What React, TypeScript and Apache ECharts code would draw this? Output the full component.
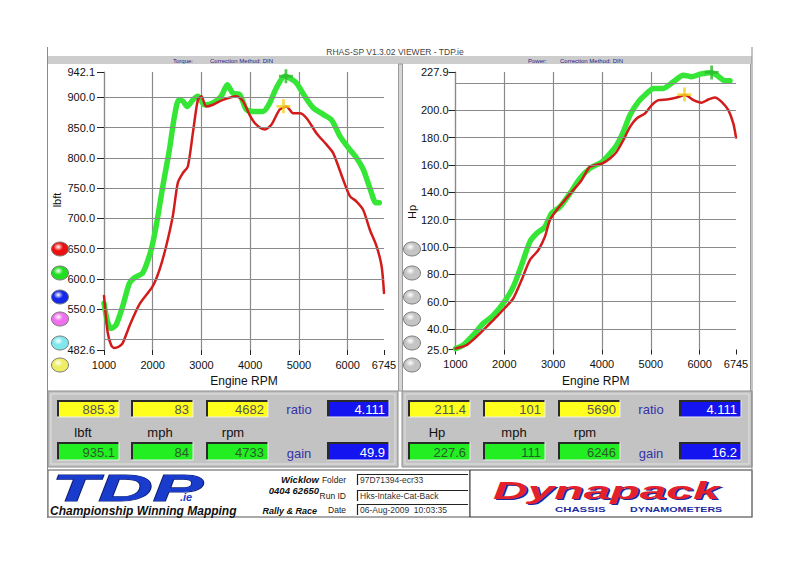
import React, { useEffect, useRef } from "react";
import * as echarts from "echarts";

// ---------- data ----------
const rpmMin = 1000;
const rpmMax = 6745;

const torqueLabelTicks = [482.6, 550, 600, 650, 700, 750, 800, 850, 900, 942.1];
const torqueGridLines = [500, 550, 600, 650, 700, 750, 800, 850, 900];
const powerLabelTicks = [25, 40, 60, 80, 100, 120, 140, 160, 180, 200, 227.9];
const powerGridLines = [40, 60, 80, 100, 120, 140, 160, 180, 200, 220];

// Torque, run 1 (red)
const torqueRpmA = [1000, 1075, 1150, 1212, 1300, 1384, 1521, 1727, 2000, 2138, 2275, 2412, 2515, 2618, 2720, 2823, 2926, 3000, 3096, 3234, 3440, 3714, 3851, 4000, 4125, 4297, 4434, 4605, 4742, 4880, 5017, 5154, 5360, 5566, 5703, 5908, 6045, 6182, 6319, 6456, 6593, 6696, 6745];
const torqueA = [572, 512, 490, 486, 488, 494, 522, 558, 588, 615, 654, 704, 759, 775, 786, 841, 896, 902, 885, 888, 896, 902, 894, 869, 855, 847, 855, 880, 885, 874, 874, 866, 841, 822, 808, 764, 737, 728, 714, 681, 654, 621, 577];

// Torque, run 2 (green)
const torqueRpmB = [1000, 1070, 1144, 1247, 1384, 1521, 1624, 1795, 1966, 2069, 2206, 2343, 2446, 2535, 2618, 2707, 2823, 2926, 3062, 3234, 3405, 3529, 3646, 3783, 3920, 4057, 4262, 4400, 4537, 4708, 4811, 4948, 5120, 5291, 5497, 5668, 5840, 6011, 6182, 6319, 6456, 6579, 6648];
const torqueB = [560, 530, 518, 524, 555, 593, 602, 610, 648, 687, 753, 814, 869, 896, 894, 885, 896, 902, 888, 891, 902, 921, 907, 905, 880, 877, 877, 891, 916, 935, 932, 924, 902, 883, 872, 863, 836, 817, 800, 781, 750, 726, 726];

// Power, run 1 (red)
const powerRpmA = [1000, 1225, 1430, 1635, 1840, 2000, 2182, 2352, 2523, 2694, 2831, 2933, 3070, 3240, 3411, 3582, 3753, 4000, 4164, 4300, 4437, 4574, 4710, 4880, 5020, 5157, 5328, 5533, 5704, 5874, 6041, 6178, 6314, 6451, 6588, 6690, 6745];
const powerA = [25.7, 28.2, 34.3, 41.6, 48.9, 55, 62.3, 75.7, 90.3, 97.6, 107.4, 119.6, 126.9, 134.2, 141.5, 148.8, 158.6, 161, 164.7, 169.5, 178, 187.8, 193.9, 197.6, 203.7, 207.3, 207.8, 209.3, 211, 207.3, 205.4, 207.8, 209.3, 206.1, 200, 190.3, 180];

// Power, run 2 (green)
const powerRpmB = [1000, 1157, 1362, 1567, 1772, 2000, 2182, 2352, 2523, 2660, 2831, 2967, 3138, 3343, 3548, 3753, 4000, 4164, 4300, 4437, 4574, 4744, 4915, 5051, 5256, 5461, 5666, 5837, 6007, 6246, 6349, 6520, 6622];
const powerB = [25.7, 28.2, 35.5, 44, 50, 59.9, 70.8, 86.7, 103.7, 109.8, 114.7, 124.5, 129.3, 139.1, 150, 157.4, 162.2, 168.3, 174.4, 184.2, 196.4, 206.1, 212.2, 215.9, 215.9, 220.7, 225.6, 224.4, 226.3, 227.6, 225.6, 221.5, 221.5];

// Peak markers [rpm, value]
const torquePeakA = [4682, 885.3];
const torquePeakB = [4733, 935.1];
const powerPeakA = [5690, 211.4];
const powerPeakB = [6246, 227.6];

// Readouts
const torqueRowA = ["885.3", "83", "4682"];
const torqueRowB = ["935.1", "84", "4733"];
const torqueRatio = "4.111";
const torqueGain = "49.9";
const powerRowA = ["211.4", "101", "5690"];
const powerRowB = ["227.6", "111", "6246"];
const powerRatio = "4.111";
const powerGain = "16.2";
const torqueUnits = ["lbft", "mph", "rpm"];
const powerUnits = ["Hp", "mph", "rpm"];

const FONT = "Liberation Sans";
const RED = "#d21c1c";
const GREEN = "#36e636";
const GRIDC = "#8a8a8a";
const CROSS = "path://M4,0L6,0L6,4L10,4L10,6L6,6L6,10L4,10L4,6L0,6L0,4L4,4Z";

const zip = (xs: number[], ys: number[]) => xs.map((x, i) => [x, ys[i]]);

function txt(text: string, x: number, y: number, o: any = {}) {
  return {
    type: "text",
    x,
    y,
    z: o.z ?? 10,
    rotation: o.rotation ?? 0,
    scaleX: o.scaleX ?? 1,
    style: {
      text,
      fill: o.color ?? "#111",
      fontSize: o.size ?? 11,
      fontFamily: o.family ?? FONT,
      fontWeight: o.weight ?? "normal",
      fontStyle: o.style ?? "normal",
      align: o.align ?? "left",
      textAlign: o.align ?? "left",
      verticalAlign: o.va ?? "middle",
      textVerticalAlign: o.va ?? "middle",
      stroke: o.stroke,
      lineWidth: o.lineWidth ?? 0,
    },
  };
}

function rect(x: number, y: number, w: number, h: number, fill: string, stroke?: string, z = -5, lw = 1) {
  return { type: "rect", z, shape: { x, y, width: w, height: h }, style: { fill, stroke: stroke ?? "none", lineWidth: lw } };
}

function line(x1: number, y1: number, x2: number, y2: number, stroke: string, lw = 1, z = 5) {
  return { type: "line", z, shape: { x1, y1, x2, y2 }, style: { stroke, lineWidth: lw } };
}

function valueBox(x: number, y: number, w: number, h: number, fill: string, text: string, color: string) {
  return [
    rect(x, y, w, h, fill, "none", 5),
    { type: "polyline", z: 6, shape: { points: [[x + 1, y + h], [x + 1, y + 1], [x + w, y + 1]] }, style: { stroke: "#2a2a2a", lineWidth: 2, fill: "none" } },
    line(x, y + h, x + w, y + h, "#eeeeee", 1, 6),
    line(x + w, y, x + w, y + h, "#eeeeee", 1, 6),
    txt(text, x + w - 4, y + h / 2 + 1, { size: 13, color, align: "right" }),
  ];
}

function readoutPanel(x0: number, rowA: string[], rowB: string[], units: string[], ratio: string, gain: string, boxXs: number[], labelX: number, blueX: number, unitXs: number[]) {
  const els: any[] = [];
  els.push(rect(x0, 391, 350, 76, "#c3c3c3", "#8c8c8c", -5));
  els.push(rect(x0 + 3, 394, 344, 70, "none", "#e2e2e2", -4));
  rowA.forEach((t, i) => els.push(...valueBox(boxXs[i], 400, 62, 17, "#ffff1e", t, "#555555")));
  rowB.forEach((t, i) => els.push(...valueBox(boxXs[i], 442, 62, 18, "#22ee22", t, "#2c5a2c")));
  els.push(...valueBox(blueX, 400, 62, 17, "#1414f0", ratio, "#ffffff"));
  els.push(...valueBox(blueX, 442, 62, 18, "#1414f0", gain, "#ffffff"));
  els.push(txt("ratio", labelX, 409, { size: 13, color: "#3434a8", align: "center" }));
  els.push(txt("gain", labelX, 453, { size: 13, color: "#3434a8", align: "center" }));
  units.forEach((u, i) => els.push(txt(u, unitXs[i], 432, { size: 13, color: "#111", align: "center" })));
  return els;
}

function legendDots(cx: number, colors: string[]) {
  const ys = [249, 273, 297, 319, 343, 365];
  return colors.map((c, i) => ({
    type: "ellipse",
    z: 5,
    shape: { cx, cy: ys[i], rx: 8.5, ry: 7 },
    style: {
      fill: {
        type: "radial", x: 0.4, y: 0.35, r: 0.8,
        colorStops: [{ offset: 0, color: "#ffffff" }, { offset: 0.35, color: c }, { offset: 1, color: c }],
      },
      stroke: "#7a7a7a",
      lineWidth: 1,
    },
  }));
}

function xAxisCfg(gridIndex: number) {
  return {
    type: "value",
    gridIndex,
    min: rpmMin,
    max: rpmMax,
    interval: 1000,
    axisLine: { show: false },
    axisTick: { show: true, length: 5, lineStyle: { color: "#222" } },
    axisLabel: { fontSize: 11, color: "#111", margin: 9, fontFamily: FONT, formatter: (v: number) => String(Math.round(v)) },
    splitLine: { show: true, showMinLine: true, showMaxLine: false, lineStyle: { color: GRIDC, width: 1.2 } },
    name: "Engine RPM",
    nameLocation: "middle",
    nameGap: 25,
    nameTextStyle: { fontSize: 12, color: "#111", fontFamily: FONT },
  };
}

function yAxisCfg(gridIndex: number, min: number, max: number, ticks: number[], margin: number) {
  return {
    type: "value",
    gridIndex,
    min,
    max,
    axisLine: { show: true, onZero: false, lineStyle: { color: GRIDC, width: 1.2 } },
    axisTick: { show: true, length: 7, customValues: ticks, lineStyle: { color: "#222" } },
    axisLabel: { customValues: ticks, fontSize: 11, color: "#111", margin, fontFamily: FONT, formatter: (v: number) => v.toFixed(1) },
    splitLine: { show: false },
  };
}

function gridSeries(idx: number, values: number[], x0: number, y0: number) {
  return {
    type: "line",
    xAxisIndex: idx,
    yAxisIndex: idx,
    z: 1,
    silent: true,
    showSymbol: false,
    data: [[x0, y0]],
    lineStyle: { opacity: 0 },
    markLine: {
      silent: true,
      symbol: "none",
      animation: false,
      label: { show: false },
      lineStyle: { color: GRIDC, width: 1.2, type: "solid" },
      data: values.map((v) => ({ yAxis: v })),
    },
  };
}

function curve(idx: number, data: number[][], color: string, width: number, z: number) {
  return {
    type: "line",
    xAxisIndex: idx,
    yAxisIndex: idx,
    z,
    data,
    showSymbol: false,
    smooth: 0.25,
    lineStyle: { color, width, cap: "round", join: "round" },
  };
}

function marker(idx: number, pt: number[], color: string) {
  return {
    type: "scatter",
    xAxisIndex: idx,
    yAxisIndex: idx,
    z: 6,
    symbol: CROSS,
    symbolSize: 14,
    itemStyle: { color },
    data: [pt],
  };
}

export default function App() {
  const ref = useRef<HTMLDivElement>(null);

  useEffect(() => {
    if (!ref.current) return;
    const chart = echarts.init(ref.current, null, { renderer: "svg" });

    const graphic: any[] = [
      // outer frame
      line(47.5, 47, 47.5, 518, "#8a8a8a", 1, -3),
      line(752, 47, 752, 518, "#8a8a8a", 1, -3),
      txt("RHAS-SP V1.3.02 VIEWER - TDP.ie", 395, 52, { size: 8.5, color: "#444", align: "center" }),
      rect(48, 56, 704, 8, "#cdcdcd", "none", -4),
      txt("Torque:", 173, 60.5, { size: 6, color: "#1c1c8c" }),
      txt("Correction Method: DIN", 210, 60.5, { size: 6, color: "#1c1c8c" }),
      txt("Power:", 528, 60.5, { size: 6, color: "#1c1c8c" }),
      txt("Correction Method: DIN", 560, 60.5, { size: 6, color: "#1c1c8c" }),
      // panel separators
      rect(398.5, 64, 4, 327, "#d6d6d6", "#9a9a9a", -4),
      line(750.5, 64, 750.5, 391, "#9a9a9a", 1, -4),
      // axis titles
      txt("lbft", 57, 200, { size: 11, align: "center", rotation: Math.PI / 2 }),
      txt("Hp", 412, 212, { size: 11, align: "center", rotation: Math.PI / 2 }),
      ...legendDots(60, ["#ee1010", "#22dd22", "#1528e8", "#ee70ee", "#80e8ec", "#eeee60"]),
      ...legendDots(412, ["#c4c4c4", "#c4c4c4", "#c4c4c4", "#c4c4c4", "#c4c4c4", "#c4c4c4"]),
      // readouts
      ...readoutPanel(48, torqueRowA, torqueRowB, torqueUnits, torqueRatio, torqueGain, [57, 131, 206], 299, 327, [83, 160, 233]),
      ...readoutPanel(402, powerRowA, powerRowB, powerUnits, powerRatio, powerGain, [408, 483, 558], 651, 679, [437, 514, 585]),
      // footer
      rect(48, 470, 422, 47, "#ffffff", "#555555", -5),
      rect(470, 470, 282, 47, "#ffffff", "#333333", -5),
      txt("TDP", 52, 489, { size: 36, weight: "bold", style: "italic", color: "#1a3ccc", stroke: "#0c1a66", lineWidth: 1, scaleX: 2.1 }),
      txt(".ie", 180, 497, { size: 11, weight: "bold", style: "italic", color: "#1a3ccc" }),
      txt("Championship Winning Mapping", 50, 511, { size: 12, weight: "bold", style: "italic", color: "#111" }),
      txt("Wicklow", 319, 479, { size: 9.5, weight: "bold", style: "italic", color: "#111", align: "right" }),
      txt("0404 62650", 319, 490, { size: 9.5, weight: "bold", style: "italic", color: "#111", align: "right" }),
      txt("Rally & Race", 317, 511, { size: 9, weight: "bold", style: "italic", color: "#111", align: "right" }),
      txt("Folder", 346, 480, { size: 8.5, color: "#222", align: "right" }),
      txt("Run ID", 346, 496, { size: 8.5, color: "#222", align: "right" }),
      txt("Date", 346, 509.5, { size: 8.5, color: "#222", align: "right" }),
      ...[[474, "97D71394-ecr33"], [490, "Hks-Intake-Cat-Back"], [504, "06-Aug-2009  10:03:35"]].flatMap(([y, t]) => [
        rect(357, y as number, 111, 11, "#ffffff", "none", 5),
        { type: "polyline", z: 6, shape: { points: [[357.5, (y as number) + 11], [357.5, (y as number) + 0.5], [468, (y as number) + 0.5]] }, style: { stroke: "#222", lineWidth: 1.2, fill: "none" } },
        txt(t as string, 360, (y as number) + 6, { size: 8.5, color: "#333" }),
      ]),
      txt("Dynapack", 495, 492, { size: 24, weight: "bold", style: "italic", color: "#1a2a9e", scaleX: 2.0 }),
      txt("Dynapack", 493, 490.5, { size: 24, weight: "bold", style: "italic", color: "#e4202a", scaleX: 2.0 }),
      txt("CHASSIS", 555, 509.5, { size: 6.5, weight: "bold", color: "#1a2a9e", scaleX: 1.75 }),
      txt("DYNAMOMETERS", 630, 509.5, { size: 6.5, weight: "bold", color: "#1a2a9e", scaleX: 1.65 }),
    ];

    chart.setOption({
      animation: false,
      backgroundColor: "#ffffff",
      grid: [
        { left: 104, top: 72, width: 280, height: 278 },
        { left: 455.5, top: 72, width: 280.5, height: 277.5 },
      ],
      xAxis: [xAxisCfg(0), xAxisCfg(1)],
      yAxis: [
        yAxisCfg(0, 482.6, 942.1, torqueLabelTicks, 9),
        yAxisCfg(1, 25, 227.9, powerLabelTicks, 7),
      ],
      series: [
        gridSeries(0, torqueGridLines, 1000, 482.6),
        gridSeries(1, powerGridLines, 1000, 25),
        curve(0, zip(torqueRpmB, torqueB), GREEN, 5.5, 3),
        curve(0, zip(torqueRpmA, torqueA), RED, 2.5, 4),
        curve(1, zip(powerRpmB, powerB), GREEN, 5.5, 3),
        curve(1, zip(powerRpmA, powerA), RED, 2.5, 4),
        marker(0, torquePeakA, "#f3d21e"),
        marker(0, torquePeakB, "#2fb82f"),
        marker(1, powerPeakA, "#f3d21e"),
        marker(1, powerPeakB, "#2fb82f"),
      ],
      graphic,
    });

    return () => chart.dispose();
  }, []);

  return <div ref={ref} style={{ position: "absolute", left: 0, top: 0, width: 799, height: 565 }} />;
}
